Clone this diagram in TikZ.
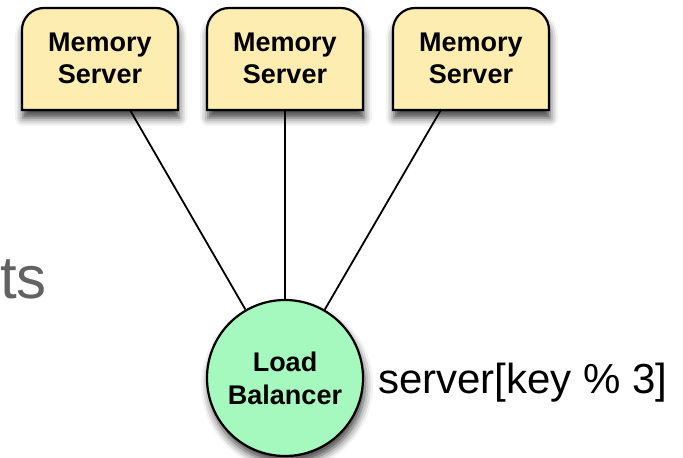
\documentclass[tikz,border=0pt]{standalone}
\usepackage{fontspec}
\setmainfont{Liberation Sans}
\usepackage{tikz}
\usetikzlibrary{positioning,shadows.blur}
\definecolor{memyellow}{RGB}{253,237,176}
\definecolor{lbgreen}{RGB}{166,249,190}
\definecolor{slidegray}{RGB}{98,98,98}
\tikzset{
  memserver/.style={minimum width=156pt, minimum height=102pt, inner sep=0pt, align=center, font=\fontsize{27}{32}\selectfont\bfseries},
  memshape/.style={draw=black, line width=2.2pt, fill=memyellow, blur shadow={shadow xshift=1pt, shadow yshift=-8pt, shadow blur radius=8pt, shadow opacity=75}},
  balancer/.style={circle, draw=black, line width=2.2pt, fill=lbgreen, minimum size=156pt, inner sep=0pt, align=center, font=\fontsize{27}{33}\selectfont\bfseries, blur shadow={shadow xshift=2pt, shadow yshift=-7pt, shadow blur radius=8pt, shadow opacity=75}},
  link/.style={draw=black, line width=1.8pt},
  hashlabel/.style={font=\fontsize{42}{50}\selectfont, text=black, inner sep=0pt},
  slidetext/.style={font=\fontsize{60}{70}\selectfont, text=slidegray, inner sep=0pt}
}
\begin{document}
\begin{tikzpicture}[x=1pt,y=-1pt]
  \useasboundingbox (0,0) rectangle (683,458);

  % boxes with rounded top corners only
  \draw[memshape] (22,110) [rounded corners=22pt] -- (22,8) -- (178,8) [sharp corners] -- (178,110) -- cycle;
  \draw[memshape] (207,110) [rounded corners=22pt] -- (207,8) -- (363,8) [sharp corners] -- (363,110) -- cycle;
  \draw[memshape] (393,110) [rounded corners=22pt] -- (393,8) -- (549,8) [sharp corners] -- (549,110) -- cycle;

  \node[memserver] (mem1) at (100,58) {Memory\\Server};
  \node[memserver] (mem2) at (285,58) {Memory\\Server};
  \node[memserver] (mem3) at (471,58) {Memory\\Server};

  \node[balancer] (lb) at (285,378) {Load\\Balancer};
  \node[hashlabel, anchor=base west] (hash) at (378,393) {server[key \% 3]};
  \node[slidetext, anchor=base east] (clients) at (47,298) {ts};

  \draw[link] (mem1) -- (lb);
  \draw[link] (mem2) -- (lb);
  \draw[link] (mem3) -- (lb);
\end{tikzpicture}
\end{document}
